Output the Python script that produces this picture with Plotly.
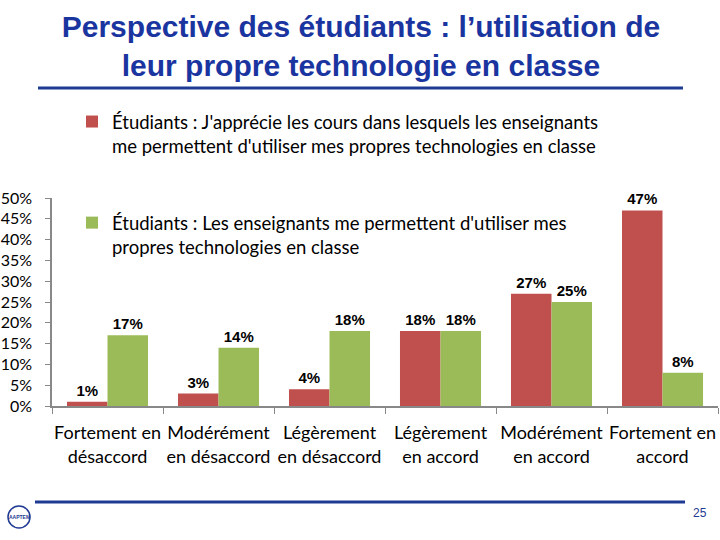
import plotly.graph_objects as go

categories = ["Fortement en<br>désaccord", "Modérément<br>en désaccord", "Légèrement<br>en désaccord",
              "Légèrement<br>en accord", "Modérément<br>en accord", "Fortement en<br>accord"]
series1_name = "Étudiants : J'apprécie les cours dans lesquels les enseignants<br>me permettent d'utiliser mes propres technologies en classe"
series1_values = [1, 3, 4, 18, 27, 47]
series2_name = "Étudiants : Les enseignants me permettent d'utiliser mes<br>propres technologies en classe"
series2_values = [17, 14, 18, 18, 25, 8]

RED = "#C0504D"
GREEN = "#9BBB59"
BLUE = "#1A35A0"

W, H = 720, 540
L, R, T, B = 52, 2, 198, 134
PW, PH = W - L - R, H - T - B

def px(x):
    return (x - L) / PW

def py(y):
    return (H - B - y) / PH

fig = go.Figure()
fig.add_trace(go.Bar(x=categories, y=series1_values, name=series1_name, marker_color=RED,
                     legendgroup="a", text=[f"{v}%" for v in series1_values],
                     textposition="outside", cliponaxis=False,
                     textfont=dict(family="Liberation Sans", size=15, color="black")))
fig.add_trace(go.Bar(x=categories, y=series2_values, name=series2_name, marker_color=GREEN,
                     legendgroup="b", text=[f"{v}%" for v in series2_values],
                     textposition="outside", cliponaxis=False,
                     textfont=dict(family="Liberation Sans", size=15, color="black")))

fig.update_traces(texttemplate="<b>%{text}</b>", marker_line_width=0)

fig.update_layout(
    width=W, height=H,
    margin=dict(l=L, r=R, t=T, b=B, autoexpand=False),
    paper_bgcolor="white", plot_bgcolor="white",
    barmode="group", bargap=0.27, bargroupgap=0.0,
    title=dict(text="<b>Perspective des étudiants : l’utilisation de<br>leur propre technologie en classe</b>",
               x=361 / W, xref="container", xanchor="center", y=1 - 37 / H, yref="container",
               yanchor="middle",
               font=dict(family="Liberation Sans", size=30, color=BLUE)),
    legend=dict(x=px(72), y=py(103), xanchor="left", yanchor="top",
                traceorder="grouped", tracegroupgap=50, valign="top",
                font=dict(family="Lato", size=18.5, color="black"), bgcolor="rgba(0,0,0,0)"),
    xaxis=dict(showline=True, linecolor="#888888", linewidth=1.5, ticks="outside", ticklen=6,
               tickcolor="#888888", tickson="boundaries", showgrid=False, automargin=False,
               tickangle=0, ticklabelstandoff=10,
               tickfont=dict(family="Lato", size=18, color="black")),
    yaxis=dict(range=[0, 50], dtick=5, ticksuffix="%", showline=True, linecolor="#888888",
               linewidth=1.5, ticks="outside", ticklen=5, tickcolor="#888888", showgrid=False,
               zeroline=False, ticklabelstandoff=10, automargin=False,
               tickfont=dict(family="Lato", size=16, color="black")),
    showlegend=True,
)

fig.add_shape(type="line", xref="paper", yref="paper", x0=px(38), x1=px(683), y0=py(88), y1=py(88),
              line=dict(color="#1F3A93", width=3))
fig.add_shape(type="line", xref="paper", yref="paper", x0=px(35), x1=px(685), y0=py(502), y1=py(502),
              line=dict(color="#1F3A93", width=3))
fig.add_shape(type="circle", xref="paper", yref="paper", x0=px(8), x1=px(30), y0=py(506), y1=py(528),
              line=dict(color="#1F3A93", width=1.5))
fig.add_annotation(xref="paper", yref="paper", x=px(19), y=py(517), text="<b>AAPTEM</b>", showarrow=False,
                   xanchor="center", yanchor="middle",
                   font=dict(family="Liberation Sans", size=5, color="#1F3A93"))
fig.add_annotation(xref="paper", yref="paper", x=px(700), y=py(513), text="25", showarrow=False,
                   xanchor="center", yanchor="middle",
                   font=dict(family="Liberation Sans", size=12, color="#1F3A93"))

fig.write_html("out.html", config={"displayModeBar": False},
               post_script="document.body.style.margin='0';")
